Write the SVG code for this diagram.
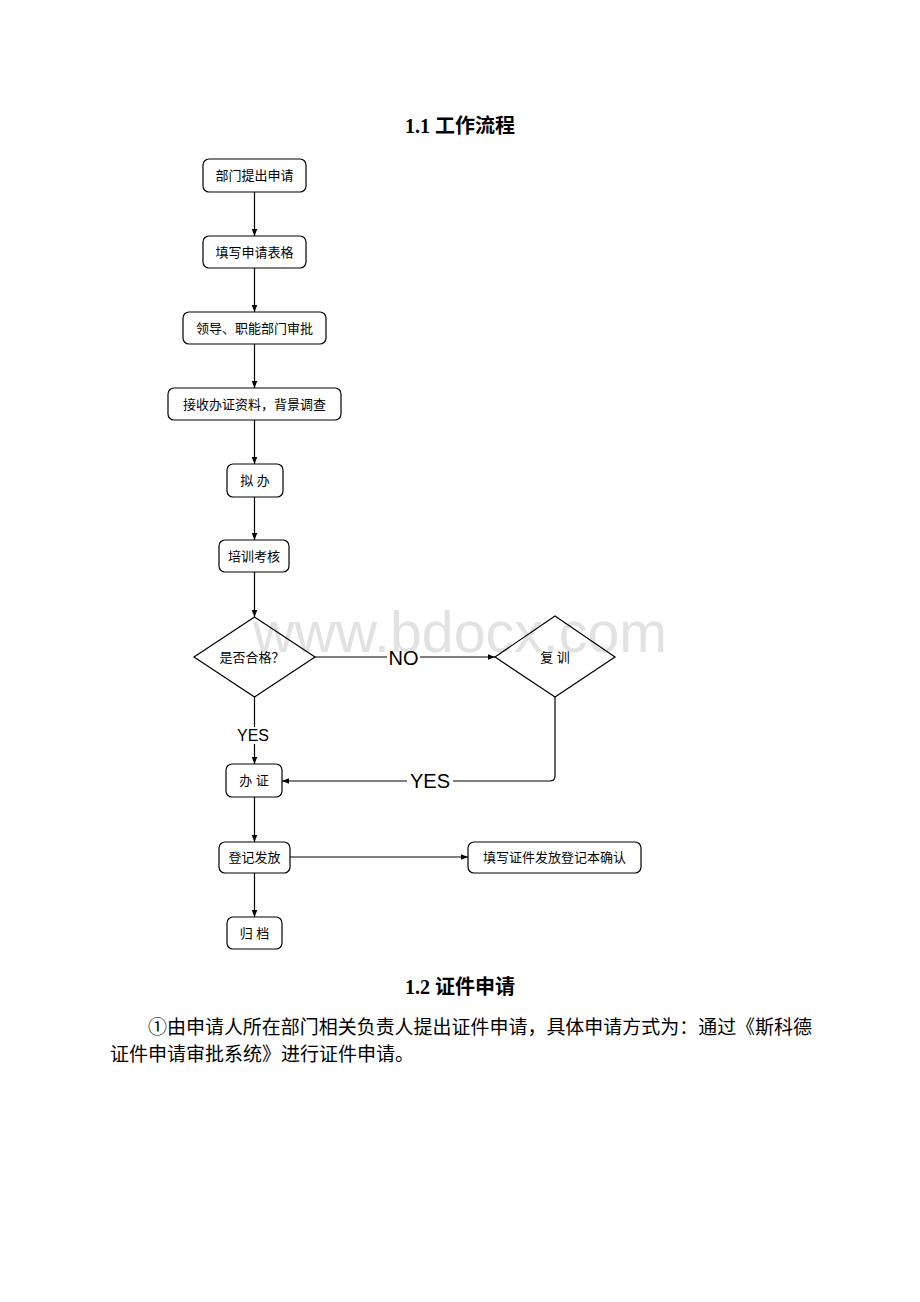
<svg xmlns="http://www.w3.org/2000/svg" width="920" height="1302" viewBox="0 0 920 1302">
<defs>
<marker id="ah" viewBox="0 0 10 10" refX="10" refY="5" markerWidth="7" markerHeight="7" markerUnits="userSpaceOnUse" orient="auto">
<path d="M0,1 L10,5 L0,9 Z" fill="#000"/>
</marker>
<style>
.box{fill:#fff;stroke:#000;stroke-width:1.2}
.nt{font-family:"Liberation Sans","Noto Sans CJK SC",sans-serif;font-size:13px;fill:#000;text-anchor:middle;dominant-baseline:central}
.edge{fill:none;stroke:#000;stroke-width:1.2}
.lbl{font-family:"Liberation Sans","Noto Sans CJK SC",sans-serif;fill:#000;text-anchor:middle;dominant-baseline:central}
.h{font-family:"Liberation Serif","Noto Sans CJK SC",serif;font-weight:bold;font-size:20px;fill:#000;text-anchor:middle}
.p{font-family:"Liberation Serif","Noto Sans CJK SC",serif;font-size:19px;fill:#000}
</style>
</defs>
<rect width="920" height="1302" fill="#fff"/>
<text class="h" x="460" y="133">1.1 工作流程</text>
<g id="connectors">
<line class="edge" x1="254.5" y1="192" x2="254.5" y2="236" marker-end="url(#ah)"/>
<line class="edge" x1="254.5" y1="268" x2="254.5" y2="312" marker-end="url(#ah)"/>
<line class="edge" x1="254.5" y1="344" x2="254.5" y2="388" marker-end="url(#ah)"/>
<line class="edge" x1="254.5" y1="420" x2="254.5" y2="464" marker-end="url(#ah)"/>
<line class="edge" x1="254.5" y1="497" x2="254.5" y2="540" marker-end="url(#ah)"/>
<line class="edge" x1="254.5" y1="572" x2="254.5" y2="617" marker-end="url(#ah)"/>
<line class="edge" x1="315" y1="657" x2="387" y2="657"/>
<line class="edge" x1="420" y1="657" x2="495" y2="657" marker-end="url(#ah)"/>
<line class="edge" x1="254.5" y1="697" x2="254.5" y2="727"/>
<line class="edge" x1="254.5" y1="744" x2="254.5" y2="764" marker-end="url(#ah)"/>
<path class="edge" d="M555,697 L555,776 Q555,781 550,781 L453,781"/>
<line class="edge" x1="407" y1="781" x2="282" y2="781" marker-end="url(#ah)"/>
<line class="edge" x1="254.5" y1="797" x2="254.5" y2="842" marker-end="url(#ah)"/>
<line class="edge" x1="290" y1="857" x2="468" y2="857" marker-end="url(#ah)"/>
<line class="edge" x1="254.5" y1="873" x2="254.5" y2="917" marker-end="url(#ah)"/>
</g>
<text x="253" y="652" font-family="Liberation Sans, sans-serif" font-size="57" fill="#e2e2e2" textLength="414" lengthAdjust="spacingAndGlyphs">www.bdocx.com</text>
<g id="edge-labels">
<text class="lbl" x="403.5" y="658" font-size="20">NO</text>
<text class="lbl" x="253" y="735.5" font-size="16">YES</text>
<text class="lbl" x="430" y="780.5" font-size="20">YES</text>
</g>
<g id="n1"><rect class="box" x="203" y="159" width="103" height="33" rx="6"/><text class="nt" x="254.5" y="175.5">部门提出申请</text></g>
<g id="n2"><rect class="box" x="203" y="236" width="103" height="32" rx="6"/><text class="nt" x="254.5" y="252">填写申请表格</text></g>
<g id="n3"><rect class="box" x="183" y="312" width="143" height="32" rx="6"/><text class="nt" x="254.5" y="328">领导、职能部门审批</text></g>
<g id="n4"><rect class="box" x="168" y="388" width="173" height="32" rx="6"/><text class="nt" x="254.5" y="404">接收办证资料，背景调查</text></g>
<g id="n5"><rect class="box" x="227" y="464" width="56" height="33" rx="6"/><text class="nt" x="255" y="480.5">拟 办</text></g>
<g id="n6"><rect class="box" x="219" y="540" width="70" height="32" rx="6"/><text class="nt" x="254" y="556">培训考核</text></g>
<g id="d1"><polygon class="box" points="254.5,617 315,657 254.5,697 194,657" fill-opacity="0"/><text class="nt" x="252" y="657.5">是否合格？</text></g>
<g id="d2"><polygon class="box" points="555,616 615,657 555,697 495,657" fill-opacity="0"/><text class="nt" x="555" y="657.5">复 训</text></g>
<g id="n7"><rect class="box" x="226" y="764" width="56" height="33" rx="6"/><text class="nt" x="254" y="780.5">办 证</text></g>
<g id="n8"><rect class="box" x="219" y="842" width="71" height="31" rx="6"/><text class="nt" x="254.5" y="857.5">登记发放</text></g>
<g id="n9"><rect class="box" x="468" y="842" width="173" height="31" rx="6"/><text class="nt" x="554.5" y="857.5">填写证件发放登记本确认</text></g>
<g id="n10"><rect class="box" x="227" y="917" width="55" height="32" rx="6"/><text class="nt" x="254.5" y="933">归 档</text></g>
<text class="h" x="460" y="994">1.2 证件申请</text>
<text class="p" x="148" y="1034" textLength="664" lengthAdjust="spacingAndGlyphs">①由申请人所在部门相关负责人提出证件申请，具体申请方式为：通过《斯科德</text>
<text class="p" x="110" y="1061" textLength="304" lengthAdjust="spacingAndGlyphs">证件申请审批系统》进行证件申请。</text>
</svg>
